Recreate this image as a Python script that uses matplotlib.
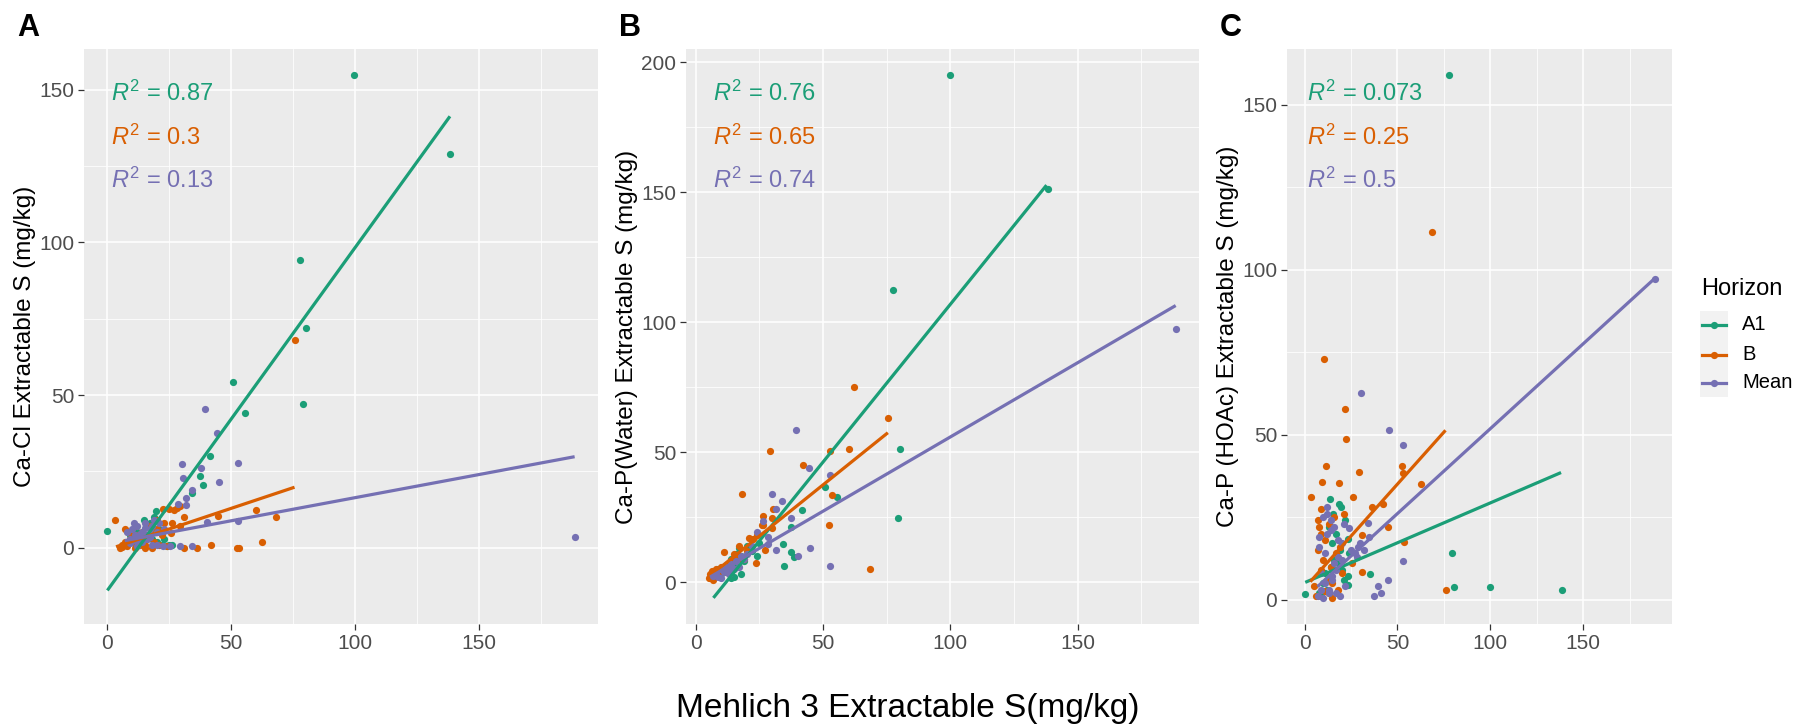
import matplotlib
matplotlib.use("Agg")
import matplotlib.pyplot as plt
from matplotlib.lines import Line2D
from matplotlib.patches import Rectangle

plt.rcParams['font.family'] = ['Liberation Sans', 'DejaVu Sans']
plt.rcParams['mathtext.fontset'] = 'custom'
plt.rcParams['mathtext.rm'] = 'Liberation Sans'
plt.rcParams['mathtext.it'] = 'Liberation Sans:italic'

horizons = ['A1', 'B', 'Mean']
colors = ['#1B9E77', '#D95F02', '#7570B3']

# Panel A: Ca-Cl
A_A1_x = [99.5, 138.2, 77.6, 80.2, 79.1, 50.6, 55.4, 41.6, 37.4, 38.6, 34.2, 0.0, 14.6, 19.5,
          16, 18, 21, 12, 10, 22, 24, 15, 17, 20, 13, 11, 9, 23, 26, 19, 25]
A_A1_y = [154.9, 129.1, 94.2, 72.0, 47.2, 54.3, 44.2, 29.9, 23.6, 20.5, 17.9, 5.3, 9.2, 11.9,
          7, 3, 6, 5, 2, 1, 0.5, 4, 8, 2, 3, 6, 4, 3, 1, 10, 0.8]
A_B_x = [75.5, 3.0, 59.9, 68.2, 62.2, 52.3, 53.0, 42.0, 36.0, 30.9, 44.6, 31.0, 27.0, 29.3, 25.0,
         28.0, 22.3, 25.5, 29.2,
         5, 6, 7, 8, 9, 10, 11, 12, 13, 14, 15, 16, 17, 18, 19, 20, 21, 23, 24,
         7, 9, 11, 6, 8, 13, 15, 18, 22, 26, 20]
A_B_y = [67.9, 9.2, 12.2, 10.1, 1.8, 0, 0, 1, 0, 0, 10.5, 10, 12.3, 13.5, 12.8,
         13, 12.7, 4.9, 7.2,
         0, 1, 6, 0.5, 3, 2, 0, 4, 1, 5, 0, 3, 7, 0, 2, 6, 1, 8, 0.5,
         2, 5, 7, 0.3, 1.5, 3, 1, 5, 4, 8, 9]
A_Mean_x = [188.5, 39.3, 44.4, 30.3, 52.6, 37.6, 30.6, 45.0, 34.3, 31.7, 31.7, 28.4, 52.6, 40.0,
            10.7, 22.5, 25.2, 29.2, 34.0, 20.0,
            8, 9, 10, 11, 12, 13, 14, 15, 16, 17, 18, 19,
            12, 14, 16, 18, 20, 9, 11, 13, 15, 17, 21, 23]
A_Mean_y = [3.4, 45.4, 37.6, 27.4, 27.7, 26.0, 22.8, 21.4, 18.9, 16.3, 13.9, 14.2, 8.6, 8.5,
            8.0, 0.6, 0.6, 0.5, 0.6, 1.0,
            5, 3, 6, 4, 7, 2, 5, 8, 3, 6, 1, 9,
            0.5, 2, 4, 7, 5, 1.5, 2.5, 4.5, 6.5, 3.5, 8, 6]

# Panel B: Ca-P(Water)
B_A1_x = [99.8, 138.2, 77.6, 80.3, 79.3, 50.8, 55.4, 41.8, 37.6, 37.6, 38.7, 34.4, 34.8,
          8, 9, 10, 11, 12, 13, 14, 15, 16, 17, 18, 19, 20, 22, 24, 25, 14, 16, 18]
B_A1_y = [195, 151.2, 112.3, 51.4, 24.6, 36.5, 32.9, 27.8, 21.4, 11.6, 9.8, 14.8, 6.2,
          4, 5, 3, 6, 5, 7, 9, 2, 11, 13, 3, 8, 14, 12, 10, 15, 1.5, 6, 10]
B_B_x = [62.4, 75.7, 60.1, 52.6, 29.3, 42.1, 18.1, 53.4, 52.3, 68.6, 26.3, 26.6, 29.9, 27.4,
         23.7, 11.3, 22.4, 30.5,
         5.4, 5.5, 6, 6.5, 7, 8, 9, 10, 12, 14, 16, 18, 20, 21, 24,
         7, 9, 13, 15, 17, 19, 30, 26]
B_B_y = [74.9, 63.2, 51.4, 50.5, 50.4, 45.0, 34.0, 33.5, 21.9, 5.2, 25.4, 21.9, 21.0, 12.5,
         7.5, 11.6, 16.5, 28.1,
         1.8, 3, 2, 4.5, 1, 5, 3, 6, 4, 8, 10, 9, 12, 17, 18,
         1.5, 2.5, 7, 11, 14, 9, 24.7, 22.2]
B_Mean_x = [188.5, 39.5, 44.7, 52.6, 30.2, 34.0, 31.7, 37.5, 26.5, 24.0, 28.6, 31.7, 40.2, 45.0,
            52.6, 28.6,
            7, 8, 9, 10, 11, 12, 13, 14, 15, 16, 17, 18, 19, 20, 22,
            10, 12, 14]
B_Mean_y = [97.5, 58.4, 44.1, 41.1, 34.0, 31.3, 28.1, 24.6, 23.7, 19.2, 14.8, 12.5, 10.0, 13.0,
            6.4, 17.4,
            2.5, 3.5, 2, 5, 4, 6, 3, 7, 5, 8, 6, 10, 9, 11, 14,
            1.5, 4.5, 5.5]

# Panel C: Ca-P (HOAc)
C_A1_x = [77.6, 79.2, 80.4, 99.8, 138.5, 35.0, 0.0, 13.5, 18.7, 19.6, 23.2, 15.3, 23.2, 23.2,
          10, 12, 14, 16, 17, 19, 20, 21, 22, 8, 9, 11, 13, 15, 18, 24]
C_A1_y = [159, 14.1, 3.8, 3.8, 2.9, 7.6, 1.8, 30.6, 29.0, 28.0, 18.5, 26.0, 7.0, 4.5,
          5, 3, 10, 12, 20, 15, 9, 6, 24, 2, 1, 8, 22, 17, 11, 14]
C_B_x = [68.6, 10.3, 22.0, 22.3, 11.4, 29.3, 9.2, 18.4, 3.3, 26.3, 52.7, 53.1, 62.6, 36.2,
         42.3, 44.8, 31.2, 53.8, 25.5, 31.2, 75.9, 8.8,
         5, 6, 7, 8, 9, 10, 11, 12, 13, 14, 15, 16, 17, 18, 19, 20, 21,
         7, 9, 11, 13, 15]
C_B_y = [111.5, 72.8, 57.9, 48.6, 40.4, 38.7, 35.6, 35.3, 31.2, 31.0, 40.6, 38.3, 35.0, 28.1,
         28.9, 21.9, 19.5, 17.3, 11.1, 8.2, 2.9, 27.3,
         4, 1, 24, 22, 20, 12, 18, 6, 2, 10, 5, 25, 14, 3, 16, 8, 26,
         15, 9, 2.5, 23, 0.5]
C_Mean_x = [188.4, 30.6, 45.4, 52.9, 52.9, 45.0, 39.6, 41.2, 37.6, 34.5, 34.4, 29.0, 30.0, 32.0,
            27.0, 23.9, 12.0,
            7, 8, 9, 10, 11, 12, 13, 14, 15, 16, 17, 18, 19, 20, 21, 22,
            8, 9, 10, 11, 12, 13, 14, 15, 16, 17, 18, 20, 25, 28]
C_Mean_y = [97.3, 62.6, 51.3, 47.0, 11.7, 5.8, 4.1, 2.1, 1.2, 18.9, 23.2, 16.0, 17.0, 15.0,
            14.0, 21.7, 28.0,
            1, 16, 3, 25, 5, 20, 2, 24, 7, 22, 9, 18, 1, 12, 23, 4,
            19, 8, 0.5, 14, 26, 3, 21, 6, 11, 2, 13, 17, 15, 13]

# fitted lm lines (x0, x1, y0, y1) for A1, B, Mean
A_fit = [(0.0, 138.2, -14.0, 141.3), (3.5, 75.5, 0.3, 19.8), (7.0, 188.5, 2.3, 29.8)]
B_fit = [(7.0, 137.8, -6.0, 152.7), (5.4, 75.5, 2.3, 57.5), (5.7, 188.5, 2.0, 106.4)]
C_fit = [(0.4, 138.1, 5.2, 38.5), (3.1, 75.9, 5.4, 51.3), (7.0, 188.4, 3.9, 97.3)]

A_r2 = ['0.87', '0.3', '0.13']
B_r2 = ['0.76', '0.65', '0.74']
C_r2 = ['0.073', '0.25', '0.5']

panels = [
    dict(tag='A', ylabel='Ca-Cl Extractable S (mg/kg)', box=(84, 598),
         pts=[(A_A1_x, A_A1_y), (A_B_x, A_B_y), (A_Mean_x, A_Mean_y)],
         fit=A_fit, r2=A_r2, yticks=[0, 50, 100, 150], yminor=[-25, 25, 75, 125]),
    dict(tag='B', ylabel='Ca-P(Water) Extractable S (mg/kg)', box=(686, 1199),
         pts=[(B_A1_x, B_A1_y), (B_B_x, B_B_y), (B_Mean_x, B_Mean_y)],
         fit=B_fit, r2=B_r2, yticks=[0, 50, 100, 150, 200], yminor=[25, 75, 125, 175]),
    dict(tag='C', ylabel='Ca-P (HOAc) Extractable S (mg/kg)', box=(1287, 1672),
         pts=[(C_A1_x, C_A1_y), (C_B_x, C_B_y), (C_Mean_x, C_Mean_y)],
         fit=C_fit, r2=C_r2, yticks=[0, 50, 100, 150], yminor=[25, 75, 125]),
]

W, H = 1794, 725
fig = plt.figure(figsize=(W / 100, H / 100), dpi=100)
top, bottom = 49, 624

for p in panels:
    left, right = p['box']
    ax = fig.add_axes([left / W, 1 - bottom / H, (right - left) / W, (bottom - top) / H])
    ax.set_facecolor('#EBEBEB')
    for s in ax.spines.values():
        s.set_visible(False)

    for (x, y), c in zip(p['pts'], colors):
        ax.scatter(x, y, s=27, color=c, linewidths=0, zorder=3)
    for (x0, x1, y0, y1), c in zip(p['fit'], colors):
        ax.plot([x0, x1], [y0, y1], color=c, lw=2.3, solid_capstyle='butt', zorder=4)

    ax.margins(0.05)
    ax.set_xticks([0, 50, 100, 150])
    ax.set_xticks([25, 75, 125, 175], minor=True)
    ax.set_yticks(p['yticks'])
    ax.set_yticks(p['yminor'], minor=True)
    ax.grid(True, which='major', color='white', lw=1.1)
    ax.grid(True, which='minor', color='white', lw=0.55)
    ax.set_axisbelow(True)
    ax.tick_params(which='major', length=4.5, width=0.9, color='#333333',
                   labelsize=15, labelcolor='#4D4D4D', pad=2.5)
    ax.tick_params(which='minor', length=0)

    ax.set_ylabel(p['ylabel'], fontsize=17.5)
    ax.yaxis.set_label_coords(-48 / (right - left), 0.5)

    for i, (r, c) in enumerate(zip(p['r2'], colors)):
        ax.text(0.052, 1 - (0.0904 + 0.0757 * i), r'$R^2$ = ' + r, color=c, fontsize=17,
                transform=ax.transAxes, ha='left', va='baseline')

    fig.text((left - 67) / W, 1 - 28 / H, p['tag'], fontsize=22, fontweight='bold',
             ha='left', va='center')

fig.text(908 / W, 1 - 709 / H, 'Mehlich 3 Extractable S(mg/kg)', fontsize=24,
         ha='center', va='center')

# legend, laid out by hand like the ggplot guide
fig.text(1701 / W, 1 - 295 / H, 'Horizon', fontsize=17, ha='left', va='baseline')
fig.patches.append(Rectangle((1700 / W, 1 - 397 / H), 28 / W, 86 / H,
                             transform=fig.transFigure, facecolor='#F2F2F2',
                             edgecolor='none', zorder=0))
key_y = [325, 355, 383]
for name, c, ky in zip(horizons, colors, key_y):
    fig.add_artist(Line2D([1702 / W, 1726 / W], [1 - ky / H, 1 - ky / H],
                          transform=fig.transFigure, color=c, lw=2.3))
    fig.add_artist(Line2D([1714 / W], [1 - ky / H], transform=fig.transFigure,
                          color=c, marker='o', markersize=5.2, markeredgewidth=0))
    fig.text(1742 / W, 1 - ky / H, name, fontsize=14.5, ha='left', va='center')

fig.savefig('out.png', dpi=100)
